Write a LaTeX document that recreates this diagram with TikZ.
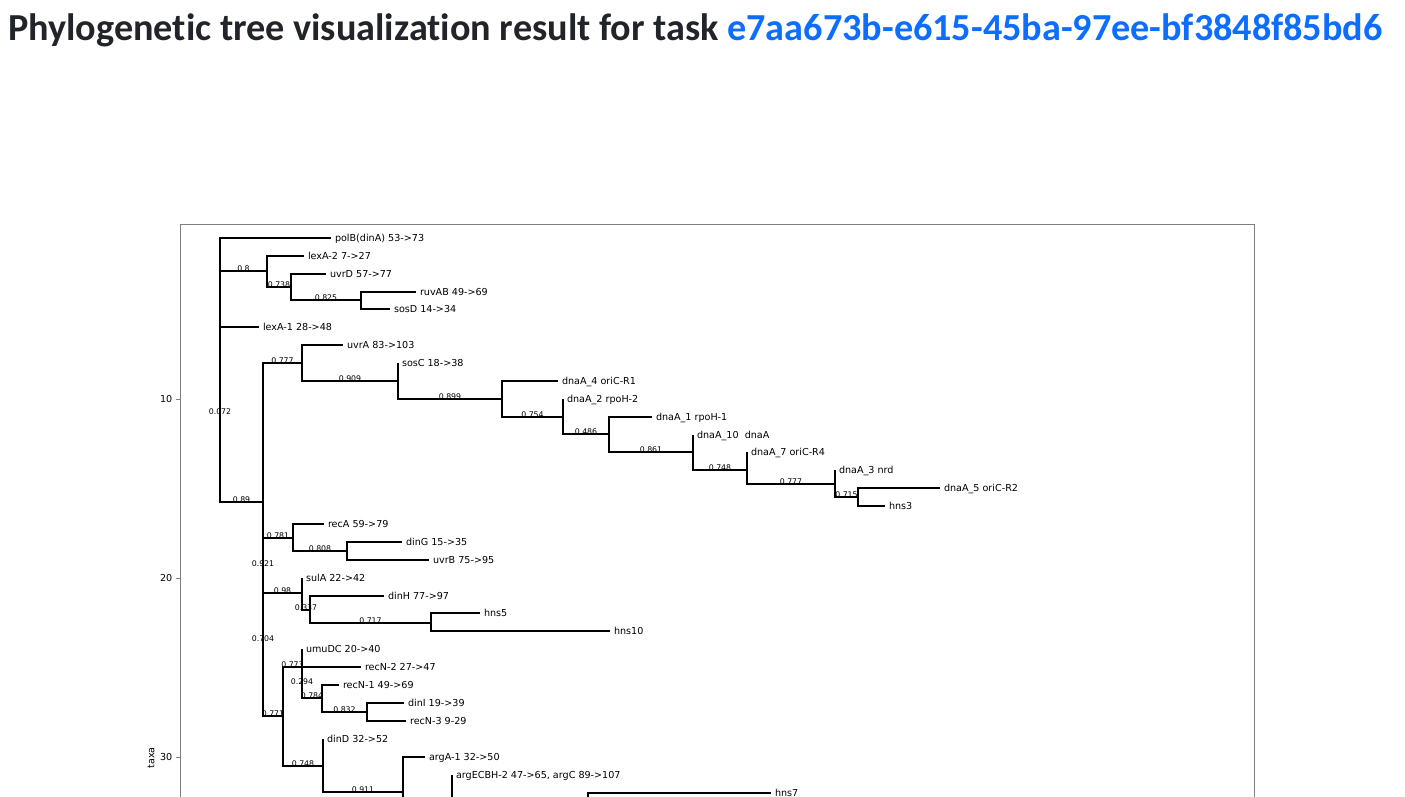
\documentclass[tikz,border=0pt]{standalone}
\usepackage{fontspec}
\newfontfamily\djv{DejaVu Sans}
\newfontfamily\ttlfont{Carlito}[Ligatures=NoCommon]
\definecolor{linkblue}{HTML}{0D6EFD}
\definecolor{titlecol}{HTML}{212529}
\definecolor{framecol}{HTML}{7F7F7F}
\newcommand{\leaffont}{\djv\fontsize{9.6}{11}\selectfont}
\newcommand{\blabfont}{\djv\fontsize{7.8}{9}\selectfont}
\begin{document}
\begin{tikzpicture}[x=1pt,y=-1pt,
  branch/.style={line width=1.3pt, black},
  leaf/.style={anchor=west, font=\leaffont, inner sep=0pt, text height=0.72em, text depth=0.2em},
  blab/.style={anchor=base, font=\blabfont, inner sep=0pt},
  ticklab/.style={anchor=east, font=\leaffont, inner sep=0pt},
  frame/.style={line width=0.9pt, framecol}]
\useasboundingbox (0,0) rectangle (1405,796);
\clip (0,0) rectangle (1405,796);
% title
\node[anchor=base west, inner sep=0pt, font=\ttlfont\bfseries\fontsize{38.2}{44}\selectfont, text=titlecol] (title) at (8,40)
  {Phylogenetic tree visualization result for task \textcolor{linkblue}{e7aa673b-e615-45ba-97ee-bf3848f85bd6}};
% axes frame
\draw[frame] (180,820) |- (1254,224) -- (1254,820);
\foreach \yy/\lab in {399/10,578/20,757/30}{
  \draw[frame] (175.5,\yy) -- (180,\yy);
  \node[ticklab] at (172.5,\yy) {\lab};
}
\node[rotate=90, font=\leaffont, inner sep=0pt] (taxa) at (151,758) {taxa};
% internal clades
\coordinate (R0) at (220,414);
\coordinate (A) at (267,271);
\coordinate (C) at (291,287);
\coordinate (D) at (361,300);
\coordinate (B) at (263,502);
\coordinate (E) at (302,363);
\coordinate (I) at (398,381);
\coordinate (J) at (502,399);
\coordinate (K) at (563,417);
\coordinate (L) at (609,434);
\coordinate (M) at (693,452);
\coordinate (N) at (747,470);
\coordinate (O) at (835,484);
\coordinate (P) at (858,497);
\coordinate (G) at (263,566);
\coordinate (Q) at (293,538);
\coordinate (R) at (347,551);
\coordinate (H) at (263,641);
\coordinate (S) at (302,593);
\coordinate (T) at (310,610);
\coordinate (U) at (431,623);
\coordinate (V) at (283,716);
\coordinate (W) at (302,667);
\coordinate (X) at (302,684);
\coordinate (Y) at (322,698);
\coordinate (Z) at (367,712);
\coordinate (AA) at (323,766);
\coordinate (AB) at (403,792);
\coordinate (AC) at (452,815);
\coordinate (AD) at (588,830);
% leaves
\coordinate (polB) at (331,238);
\coordinate (lexA2) at (304,256);
\coordinate (uvrD) at (326,274);
\coordinate (ruvAB) at (416,292);
\coordinate (sosD) at (390,309);
\coordinate (lexA1) at (259,327);
\coordinate (uvrA) at (343,345);
\coordinate (sosC) at (398,363);
\coordinate (dnaA4) at (558,381);
\coordinate (dnaA2) at (563,399);
\coordinate (dnaA1) at (652,417);
\coordinate (dnaA10) at (693,435);
\coordinate (dnaA7) at (747,452);
\coordinate (dnaA3) at (835,470);
\coordinate (dnaA5) at (940,488);
\coordinate (hns3) at (885,506);
\coordinate (recA) at (324,524);
\coordinate (dinG) at (402,542);
\coordinate (uvrB) at (429,560);
\coordinate (sulA) at (302,578);
\coordinate (dinH) at (384,596);
\coordinate (hns5) at (480,613);
\coordinate (hns10) at (610,631);
\coordinate (umuDC) at (302,649);
\coordinate (recN2) at (361,667);
\coordinate (recN1) at (339,685);
\coordinate (dinI) at (404,703);
\coordinate (recN3) at (406,721);
\coordinate (dinD) at (323,739);
\coordinate (argA1) at (425,757);
\coordinate (argE) at (452,775);
\coordinate (hns7) at (771,793);
% branches
\foreach \p/\c in {R0/polB,R0/A,R0/lexA1,R0/B,
  A/lexA2,A/C,C/uvrD,C/D,D/ruvAB,D/sosD,
  B/E,B/G,E/uvrA,E/I,I/sosC,I/J,J/dnaA4,J/K,K/dnaA2,K/L,L/dnaA1,L/M,
  M/dnaA10,M/N,N/dnaA7,N/O,O/dnaA3,O/P,P/dnaA5,P/hns3,
  G/Q,G/H,Q/recA,Q/R,R/dinG,R/uvrB,
  H/S,H/V,S/sulA,S/T,T/dinH,T/U,U/hns5,U/hns10,
  V/W,V/AA,W/umuDC,W/X,X/recN2,X/Y,Y/recN1,Y/Z,Z/dinI,Z/recN3,
  AA/dinD,AA/AB,AB/argA1,AB/AC,AC/argE,AC/AD,AD/hns7}{
  \draw[branch] (\p) |- (\c);
}
% leaf labels
\foreach \c/\t in {polB/{polB(dinA) 53->73},lexA2/{lexA-2 7->27},uvrD/{uvrD 57->77},
  ruvAB/{ruvAB 49->69},sosD/{sosD 14->34},lexA1/{lexA-1 28->48},uvrA/{uvrA 83->103},
  sosC/{sosC 18->38},dnaA4/{dnaA\_4 oriC-R1},dnaA2/{dnaA\_2 rpoH-2},dnaA1/{dnaA\_1 rpoH-1},
  dnaA10/{dnaA\_10\ \ dnaA},dnaA7/{dnaA\_7 oriC-R4},dnaA3/{dnaA\_3 nrd},dnaA5/{dnaA\_5 oriC-R2},
  hns3/{hns3},recA/{recA 59->79},dinG/{dinG 15->35},uvrB/{uvrB 75->95},sulA/{sulA 22->42},
  dinH/{dinH 77->97},hns5/{hns5},hns10/{hns10},umuDC/{umuDC 20->40},recN2/{recN-2 27->47},
  recN1/{recN-1 49->69},dinI/{dinI 19->39},recN3/{recN-3 9-29},dinD/{dinD 32->52},
  argA1/{argA-1 32->50},argE/{argECBH-2 47->65, argC 89->107},hns7/{hns7}}{
  \node[leaf] (\c-l) at ([xshift=3.8pt,yshift=-0.6pt]\c) {\t};
}
% branch support labels
\foreach \x/\y/\t/\n in {220/414/0.072/lR0,243.5/271/0.8/lA,279/287/0.738/lC,326/300/0.825/lD,
  241.5/502/0.89/lB,282.5/363/0.777/lE,350/381/0.909/lI,450/399/0.899/lJ,532.5/417/0.754/lK,
  586/434/0.486/lL,651/452/0.861/lM,720/470/0.748/lN,791/484/0.777/lO,846.5/497/0.715/lP,
  263/566/0.921/lG,278/538/0.781/lQ,320/551/0.808/lR,263/641/0.704/lH,282.5/593/0.98/lS,
  306/610/0.337/lT,370.5/623/0.717/lU,273/716/0.771/lV,292.5/667/0.773/lW,302/684/0.294/lX,
  312/698/0.784/lY,344.5/712/0.832/lZ,303/766/0.748/lAA,363/792/0.911/lAB}{
  \node[blab] (\n) at (\x,\y+0.5) {\t};
}
\end{tikzpicture}
\end{document}
